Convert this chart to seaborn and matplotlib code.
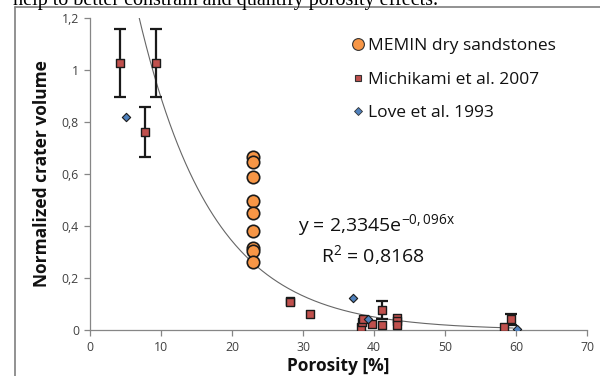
import numpy as np
import pandas as pd
import matplotlib
matplotlib.use("Agg")
import matplotlib.pyplot as plt
import seaborn as sns
from matplotlib.lines import Line2D

sns.set_theme(style="white")
plt.rcParams['font.family'] = ['Open Sans', 'DejaVu Sans']

# --- data ---
memin_x = [23, 23, 23, 23, 23, 23, 23, 23, 23]
memin_y = [0.665, 0.645, 0.59, 0.495, 0.45, 0.38, 0.315, 0.305, 0.26]

mich_x = [4.2, 9.3, 7.7, 28.2, 28.2, 31.0, 38.1, 38.3, 38.5, 39.7, 41.1, 41.1, 43.2, 43.3, 43.3, 58.3, 59.3]
mich_y = [1.026, 1.028, 0.762, 0.113, 0.108, 0.06, 0.013, 0.032, 0.041, 0.023, 0.077, 0.018, 0.045, 0.036, 0.018, 0.012, 0.041]
mich_err = [0.13, 0.13, 0.095, 0, 0, 0, 0, 0, 0, 0, 0.035, 0, 0, 0, 0, 0, 0.02]

love_x = [5.1, 37.0, 39.1, 60.2]
love_y = [0.82, 0.122, 0.041, 0.005]

fit_a = 2.3345
fit_b = -0.096
fit_range = [4.2, 59.6]

x_ticks = [0, 10, 20, 30, 40, 50, 60, 70]
y_ticks = [0, 0.2, 0.4, 0.6, 0.8, 1.0, 1.2]
y_tick_labels = ["0", "0,2", "0,4", "0,6", "0,8", "1", "1,2"]

# --- figure ---
fig = plt.figure(figsize=(6.0, 3.76), dpi=100)
ax = fig.add_axes([90/600, 1-330/376, 497/600, 312/376])

grey = "#868686"
txt = "#404040"

# trendline
fx = np.linspace(fit_range[0], fit_range[1], 300)
fy = fit_a * np.exp(fit_b * fx)
sns.lineplot(x=fx, y=fy, ax=ax, color="#666666", lw=0.8, zorder=2)

# error bars
mx = np.array(mich_x); my = np.array(mich_y); me = np.array(mich_err)
sel = me > 0
ax.errorbar(mx[sel], my[sel], yerr=me[sel], fmt='none', ecolor="#1a1a1a",
            elinewidth=1.6, capsize=4, capthick=1.6, zorder=3)

sns.scatterplot(x=memin_x, y=memin_y, ax=ax, marker='o', s=80, color="#F79646",
                edgecolor="#1a1a1a", linewidth=1.2, zorder=4)
sns.scatterplot(x=mich_x, y=mich_y, ax=ax, marker='s', s=32, color="#C0504D",
                edgecolor="#1a1a1a", linewidth=1.0, zorder=5)
sns.scatterplot(x=love_x, y=love_y, ax=ax, marker='D', s=18, color="#4F81BD",
                edgecolor="#1a1a1a", linewidth=0.8, zorder=6)

ax.set_xlim(0, 70)
ax.set_ylim(0, 1.2)
ax.set_xticks(x_ticks)
ax.set_xticklabels([str(v) for v in x_ticks])
ax.set_yticks(y_ticks)
ax.set_yticklabels(y_tick_labels)
for s in ["top", "right"]:
    ax.spines[s].set_visible(False)
for s in ["left", "bottom"]:
    ax.spines[s].set_color(grey)
    ax.spines[s].set_linewidth(0.9)
ax.tick_params(axis='both', which='both', direction='out', length=4, width=0.9,
               color=grey, labelcolor=txt, labelsize=8.8, pad=4,
               left=True, bottom=True)
ax.set_xlabel("Porosity [%]", fontsize=12.5, fontweight='bold', color="#111111", labelpad=2)
ax.set_ylabel("Normalized crater volume", fontsize=12.5, fontweight='bold', color="#111111", labelpad=8)

# legend
handles = [
    Line2D([], [], ls='none', marker='o', ms=8.5, mfc="#F79646", mec="#333333", mew=0.8),
    Line2D([], [], ls='none', marker='s', ms=5, mfc="#C0504D", mec="#333333", mew=0.8),
    Line2D([], [], ls='none', marker='D', ms=4, mfc="#4F81BD", mec="#333333", mew=0.6),
]
labels = ["MEMIN dry sandstones", "Michikami et al. 2007", "Love et al. 1993"]
leg = ax.legend(handles, labels, loc='upper left', frameon=False, fontsize=12.5,
                handletextpad=0.15, handlelength=0.9, labelspacing=1.0, borderaxespad=0.0,
                borderpad=0.0)
for t in leg.get_texts():
    t.set_color("#111111")
leg.set_bbox_to_anchor((350/600, 1 - 38/376), transform=fig.transFigure)

# equation
fig.text(377/600, 1 - 226/376, "y = 2,3345e$^{\\mathregular{-0,096x}}$", ha='center', va='center',
         fontsize=14, color="#111111")
fig.text(373/600, 1 - 256/376, "R$^{\\mathregular{2}}$ = 0,8168", ha='center', va='center',
         fontsize=14, color="#111111")

# outer frame and clipped caption
fig.add_artist(Line2D([14.5/600, 14.5/600], [0, 1 - 7/376], transform=fig.transFigure,
                      color="#7f7f7f", lw=1.2))
fig.add_artist(Line2D([14.5/600, 1], [1 - 7/376, 1 - 7/376], transform=fig.transFigure,
                      color="#7f7f7f", lw=1.2))
fig.text(13/600, 1 - 5/376, "help to better constrain and quantify porosity effects.",
         ha='left', va='baseline', fontsize=14.5, family=['Liberation Serif'], color="black")

fig.savefig("out.png", dpi=100)
